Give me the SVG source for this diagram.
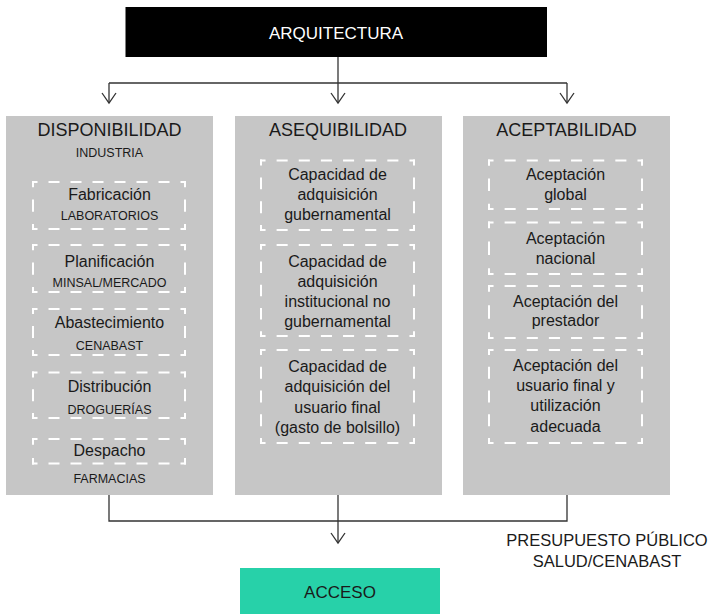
<svg xmlns="http://www.w3.org/2000/svg" width="712" height="614" viewBox="0 0 712 614">
<defs>
<style>
text{font-family:"Liberation Sans",Arial,sans-serif;text-anchor:middle;fill:#1a1a1a}
.h{font-size:18px}
.t{font-size:16px}
.s{font-size:12.5px}
.w{fill:#ffffff;font-size:17px}
.panel{fill:#c6c6c6}
.dash line{stroke:#ffffff;stroke-width:2;fill:none;stroke-dasharray:5 10 5 0}
.conn{fill:none;stroke:#333333;stroke-width:1.3}
</style>
<marker id="arr" markerUnits="userSpaceOnUse" viewBox="-11 -8 12 16" markerWidth="12" markerHeight="16" refX="0" refY="0" orient="auto" overflow="visible">
<path d="M-10,-7 L0,0 L-10,7" fill="none" stroke="#333333" stroke-width="1.3"/>
</marker>
</defs>
<rect width="712" height="614" fill="#ffffff"/>

<g id="connectors" class="conn">
<path d="M338 57 V83"/>
<path d="M109 83 H567"/>
<path d="M109 83 V103" marker-end="url(#arr)"/>
<path d="M338 83 V103" marker-end="url(#arr)"/>
<path d="M567 83 V103" marker-end="url(#arr)"/>
<path d="M109 495 V521 H567 V495"/>
<path d="M338 495 V543" marker-end="url(#arr)"/>
</g>

<g id="arquitectura">
<rect x="125.5" y="7" width="421.5" height="50" fill="#000000"/>
<text class="w" x="336" y="38.5">ARQUITECTURA</text>
</g>

<g id="disponibilidad">
<rect class="panel" x="6" y="116" width="207" height="379"/>
<text class="h" x="109.5" y="135.5">DISPONIBILIDAD</text>
<text class="s" x="109.5" y="157">INDUSTRIA</text>
<g id="fabricacion" class="dash">
<line x1="32" y1="182" x2="186" y2="182" pathLength="140"/>
<line x1="32" y1="229" x2="186" y2="229" pathLength="140"/>
<line x1="33" y1="181" x2="33" y2="230" pathLength="40"/>
<line x1="185" y1="181" x2="185" y2="230" pathLength="40"/>
</g>
<text class="t" x="109.5" y="199.5">Fabricación</text>
<text class="s" x="109.5" y="220">LABORATORIOS</text>
<g id="planificacion" class="dash">
<line x1="32" y1="245" x2="186" y2="245" pathLength="140"/>
<line x1="32" y1="292" x2="186" y2="292" pathLength="140"/>
<line x1="33" y1="244" x2="33" y2="293" pathLength="40"/>
<line x1="185" y1="244" x2="185" y2="293" pathLength="40"/>
</g>
<text class="t" x="109.5" y="266.5">Planificación</text>
<text class="s" x="109.5" y="286.5">MINSAL/MERCADO</text>
<g id="abastecimiento" class="dash">
<line x1="32" y1="309" x2="186" y2="309" pathLength="140"/>
<line x1="32" y1="355" x2="186" y2="355" pathLength="140"/>
<line x1="33" y1="308" x2="33" y2="356" pathLength="40"/>
<line x1="185" y1="308" x2="185" y2="356" pathLength="40"/>
</g>
<text class="t" x="109.5" y="328">Abastecimiento</text>
<text class="s" x="109.5" y="349.5">CENABAST</text>
<g id="distribucion" class="dash">
<line x1="32" y1="372.5" x2="186" y2="372.5" pathLength="140"/>
<line x1="32" y1="418" x2="186" y2="418" pathLength="140"/>
<line x1="33" y1="371.5" x2="33" y2="419" pathLength="40"/>
<line x1="185" y1="371.5" x2="185" y2="419" pathLength="40"/>
</g>
<text class="t" x="109.5" y="392">Distribución</text>
<text class="s" x="109.5" y="413.5">DROGUERÍAS</text>
<g id="despacho" class="dash">
<line x1="32" y1="439" x2="186" y2="439" pathLength="140"/>
<line x1="32" y1="463.5" x2="186" y2="463.5" pathLength="140"/>
<line x1="33" y1="438" x2="33" y2="464.5" pathLength="20"/>
<line x1="185" y1="438" x2="185" y2="464.5" pathLength="20"/>
</g>
<text class="t" x="109.5" y="456">Despacho</text>
<text class="s" x="109.5" y="482.5">FARMACIAS</text>
</g>

<g id="asequibilidad">
<rect class="panel" x="235" y="116" width="207" height="379"/>
<text class="h" x="338" y="135.5">ASEQUIBILIDAD</text>
<g id="adq-gubernamental" class="dash">
<line x1="260" y1="160.5" x2="415" y2="160.5" pathLength="140"/>
<line x1="260" y1="230" x2="415" y2="230" pathLength="140"/>
<line x1="261" y1="159.5" x2="261" y2="231" pathLength="60"/>
<line x1="414" y1="159.5" x2="414" y2="231" pathLength="60"/>
</g>
<text class="t" x="337.5" y="179.5">Capacidad de</text>
<text class="t" x="337.5" y="200">adquisición</text>
<text class="t" x="337.5" y="220">gubernamental</text>
<g id="adq-institucional" class="dash">
<line x1="260" y1="245" x2="415" y2="245" pathLength="140"/>
<line x1="260" y1="336" x2="415" y2="336" pathLength="140"/>
<line x1="261" y1="244" x2="261" y2="337" pathLength="80"/>
<line x1="414" y1="244" x2="414" y2="337" pathLength="80"/>
</g>
<text class="t" x="337.5" y="266.5">Capacidad de</text>
<text class="t" x="337.5" y="287">adquisición</text>
<text class="t" x="337.5" y="307">institucional no</text>
<text class="t" x="337.5" y="327">gubernamental</text>
<g id="adq-usuario" class="dash">
<line x1="260" y1="350" x2="415" y2="350" pathLength="140"/>
<line x1="260" y1="443" x2="415" y2="443" pathLength="140"/>
<line x1="261" y1="349" x2="261" y2="444" pathLength="80"/>
<line x1="414" y1="349" x2="414" y2="444" pathLength="80"/>
</g>
<text class="t" x="337.5" y="371.5">Capacidad de</text>
<text class="t" x="337.5" y="392">adquisición del</text>
<text class="t" x="337.5" y="412.5">usuario final</text>
<text class="t" x="337.5" y="433">(gasto de bolsillo)</text>
</g>

<g id="aceptabilidad">
<rect class="panel" x="463" y="116" width="207" height="379"/>
<text class="h" x="566.5" y="135.5">ACEPTABILIDAD</text>
<g id="acep-global" class="dash">
<line x1="488" y1="160.5" x2="643" y2="160.5" pathLength="140"/>
<line x1="488" y1="209" x2="643" y2="209" pathLength="140"/>
<line x1="489" y1="159.5" x2="489" y2="210" pathLength="40"/>
<line x1="642" y1="159.5" x2="642" y2="210" pathLength="40"/>
</g>
<text class="t" x="565.5" y="179.5">Aceptación</text>
<text class="t" x="565.5" y="200">global</text>
<g id="acep-nacional" class="dash">
<line x1="488" y1="222.5" x2="643" y2="222.5" pathLength="140"/>
<line x1="488" y1="274" x2="643" y2="274" pathLength="140"/>
<line x1="489" y1="221.5" x2="489" y2="275" pathLength="40"/>
<line x1="642" y1="221.5" x2="642" y2="275" pathLength="40"/>
</g>
<text class="t" x="565.5" y="243.5">Aceptación</text>
<text class="t" x="565.5" y="263.5">nacional</text>
<g id="acep-prestador" class="dash">
<line x1="488" y1="286" x2="643" y2="286" pathLength="140"/>
<line x1="488" y1="338" x2="643" y2="338" pathLength="140"/>
<line x1="489" y1="285" x2="489" y2="339" pathLength="40"/>
<line x1="642" y1="285" x2="642" y2="339" pathLength="40"/>
</g>
<text class="t" x="565.5" y="306.5">Aceptación del</text>
<text class="t" x="565.5" y="326">prestador</text>
<g id="acep-usuario" class="dash">
<line x1="488" y1="350" x2="643" y2="350" pathLength="140"/>
<line x1="488" y1="443" x2="643" y2="443" pathLength="140"/>
<line x1="489" y1="349" x2="489" y2="444" pathLength="80"/>
<line x1="642" y1="349" x2="642" y2="444" pathLength="80"/>
</g>
<text class="t" x="565.5" y="370.5">Aceptación del</text>
<text class="t" x="565.5" y="391">usuario final y</text>
<text class="t" x="565.5" y="411">utilización</text>
<text class="t" x="565.5" y="431.5">adecuada</text>
</g>

<g id="presupuesto">
<text class="t" x="607" y="546" style="font-size:16.5px">PRESUPUESTO PÚBLICO</text>
<text class="t" x="607" y="567" style="font-size:16.5px">SALUD/CENABAST</text>
</g>

<g id="acceso">
<rect x="240" y="568" width="200" height="46" fill="#27d1a9"/>
<text x="340" y="598" style="font-size:17px">ACCESO</text>
</g>
</svg>
